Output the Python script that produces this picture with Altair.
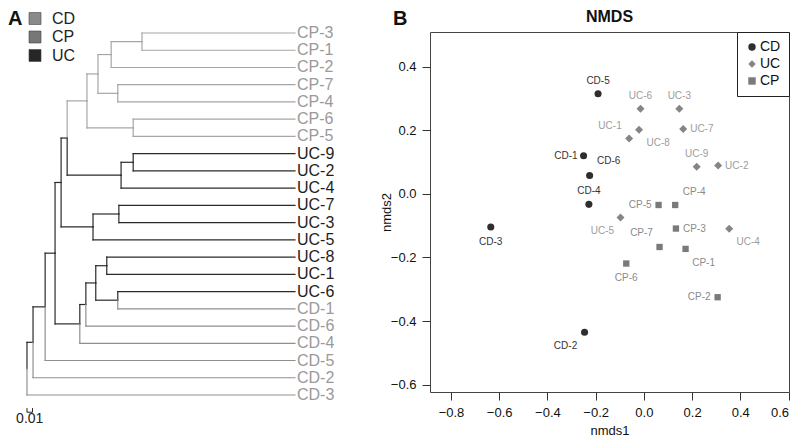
import altair as alt
import pandas as pd

# ---------------- Panel A: dendrogram ----------------
LEAVES = ["CP-3", "CP-1", "CP-2", "CP-7", "CP-4", "CP-6", "CP-5",
          "UC-9", "UC-2", "UC-4", "UC-7", "UC-3", "UC-5", "UC-8", "UC-1", "UC-6",
          "CD-1", "CD-6", "CD-4", "CD-5", "CD-2", "CD-3"]
NODE_NAMES = ["n1", "n2", "n3", "n4", "n5", "n6", "n7", "n8", "n9", "n10", "n11",
              "n12", "n13", "n14", "n15", "n16", "n17", "n18", "n19", "n20", "root"]
NODE_LEFT = ["CP-3", "n1", "CP-7", "n2", "CP-6", "n4", "UC-9", "n7", "n6", "UC-7", "n10",
             "n9", "UC-8", "UC-6", "n13", "n15", "n16", "n12", "n18", "n19", "n20"]
NODE_RIGHT = ["CP-1", "CP-2", "CP-4", "n3", "CP-5", "n5", "UC-2", "UC-4", "n8", "UC-3", "UC-5",
              "n11", "UC-1", "CD-1", "n14", "CD-6", "CD-4", "n17", "CD-5", "CD-2", "CD-3"]
NODE_DEPTH = [0.209, 0.153, 0.165, 0.129, 0.193, 0.109, 0.193, 0.171, 0.073, 0.167, 0.120,
              0.062, 0.145, 0.165, 0.125, 0.107, 0.096, 0.051, 0.033, 0.011, 0.000]
TIP_DEPTH = 0.487
SCALE_BAR = 0.01

GROUPS_A = ["CD", "CP", "UC"]
LEGEND_A_COLORS = ["#8a8a8a", "#777777", "#262626"]
BRANCH_COLORS = {"CD": "#8f8f8f", "CP": "#a6a6a6", "UC": "#2a2a2a"}
MIXED_COLOR = "#2a2a2a"
LABEL_COLORS = {"CD": "#9a9a9a", "CP": "#9a9a9a", "UC": "#1e1e1e"}

# ---------------- Panel B: NMDS ----------------
PT_NAMES = ["CD-1", "CD-2", "CD-3", "CD-4", "CD-5", "CD-6",
            "UC-1", "UC-2", "UC-3", "UC-4", "UC-5", "UC-6", "UC-7", "UC-8", "UC-9",
            "CP-1", "CP-2", "CP-3", "CP-4", "CP-5", "CP-6", "CP-7"]
PT_X = [-0.250, -0.246, -0.635, -0.228, -0.190, -0.225,
        -0.020, 0.308, 0.147, 0.354, -0.097, -0.014, 0.163, -0.061, 0.219,
        0.173, 0.306, 0.133, 0.130, 0.061, -0.073, 0.065]
PT_Y = [0.120, -0.435, -0.104, -0.033, 0.315, 0.058,
        0.202, 0.089, 0.268, -0.110, -0.074, 0.268, 0.204, 0.174, 0.085,
        -0.173, -0.325, -0.109, -0.035, -0.035, -0.219, -0.167]
# label placement (pixel offsets from the point, text alignment)
LBL_DX = [-6, -19, 0, 0, 0, 19,
          -29, 7, 0, 19, -18, 0, 7, 29, 0,
          18, -7, 7, 19, -7, 0, -18]
LBL_DY = [0, 14, 15, -13, -13, -14,
          -4, 0, -13, 13, 14, -13, 0, 4, -13,
          14, 0, 0, -13, 0, 14, -14]
LBL_ALIGN = ["right", "center", "center", "center", "center", "center",
             "center", "left", "center", "center", "center", "center", "left", "center", "center",
             "center", "right", "left", "center", "right", "center", "center"]

GROUPS_B = ["CD", "UC", "CP"]
POINT_COLORS = ["#2e2e2e", "#858585", "#7a7a7a"]
POINT_SHAPES = ["circle", "diamond", "square"]
POINT_SIZES = {"CD": 50, "UC": 64, "CP": 40}
TEXT_COLORS_B = {"CD": "#333333", "UC": "#9c9c9c", "CP": "#8a8a8a"}

FONT = "Liberation Sans"

# ---------------- layout constants ----------------
W_A, H = 330, 360
W_B = 359
X_DOM_A = [-0.0345, 0.5652]
Y_DOM_A = [-0.058, 20.826]
X_DOM_B = [-0.887, 0.602]
Y_DOM_B = [-0.623, 0.509]

# ---------------- build dendrogram segments ----------------
ypos = {name: float(i) for i, name in enumerate(LEAVES)}
depth = {name: TIP_DEPTH for name in LEAVES}
members = {name: [name] for name in LEAVES}
for n, l, r, d in zip(NODE_NAMES, NODE_LEFT, NODE_RIGHT, NODE_DEPTH):
    ypos[n] = (ypos[l] + ypos[r]) / 2
    depth[n] = d
    members[n] = members[l] + members[r]


def clade_color(name):
    gs = set(m[:2] for m in members[name])
    if len(gs) == 1:
        return BRANCH_COLORS[gs.pop()]
    return MIXED_COLOR


hseg, vseg = [], []
for n, l, r in zip(NODE_NAMES, NODE_LEFT, NODE_RIGHT):
    for c in (l, r):
        col = clade_color(c)
        hseg.append({"x": depth[n], "x2": depth[c], "y": ypos[c], "c": col})
        vseg.append({"x": depth[n], "y": ypos[n], "y2": ypos[c], "c": col})
hseg = pd.DataFrame(hseg)
vseg = pd.DataFrame(vseg)
leaf_df = pd.DataFrame({"name": LEAVES, "x": [TIP_DEPTH] * len(LEAVES),
                        "y": [ypos[n] for n in LEAVES],
                        "c": [LABEL_COLORS[n[:2]] for n in LEAVES]})

xa = alt.Scale(domain=X_DOM_A, nice=False, zero=False)
ya = alt.Scale(domain=Y_DOM_A, nice=False, zero=False, reverse=True)

h_rules = alt.Chart(hseg).mark_rule(strokeWidth=1.2, strokeCap="square").encode(
    x=alt.X("x:Q", scale=xa, axis=None), x2="x2:Q",
    y=alt.Y("y:Q", scale=ya, axis=None),
    color=alt.Color("c:N", scale=None))
v_rules = alt.Chart(vseg).mark_rule(strokeWidth=1.2, strokeCap="square").encode(
    x=alt.X("x:Q", scale=xa, axis=None),
    y=alt.Y("y:Q", scale=ya, axis=None), y2="y2:Q",
    color=alt.Color("c:N", scale=None))
leaf_text = alt.Chart(leaf_df).mark_text(align="left", baseline="middle", dx=2,
                                         fontSize=16, font=FONT).encode(
    x=alt.X("x:Q", scale=xa, axis=None),
    y=alt.Y("y:Q", scale=ya, axis=None),
    text="name:N", color=alt.Color("c:N", scale=None))

nl = len(LEAVES)
bar_df = pd.DataFrame({"x": [0.0], "x2": [SCALE_BAR], "y": [float(nl)]})
bar_ticks = pd.DataFrame({"x": [0.0, SCALE_BAR], "y": [nl - 0.24] * 2, "y2": [float(nl)] * 2})
bar_h = alt.Chart(bar_df).mark_rule(strokeWidth=1, color="#222").encode(
    x=alt.X("x:Q", scale=xa, axis=None), x2="x2:Q", y=alt.Y("y:Q", scale=ya, axis=None))
bar_v = alt.Chart(bar_ticks).mark_rule(strokeWidth=1, color="#222").encode(
    x=alt.X("x:Q", scale=xa, axis=None), y=alt.Y("y:Q", scale=ya, axis=None), y2="y2:Q")
bar_txt = alt.Chart(pd.DataFrame({"x": [SCALE_BAR / 2], "y": [nl + 0.42], "t": [str(SCALE_BAR)]})).mark_text(
    fontSize=14, font=FONT, color="#222", baseline="middle").encode(
    x=alt.X("x:Q", scale=xa, axis=None), y=alt.Y("y:Q", scale=ya, axis=None), text="t:N")

legend_a = alt.Chart(pd.DataFrame({"group": GROUPS_A, "x": [0.0] * 3, "y": [0.0] * 3})).mark_square(
    opacity=0).encode(
    x=alt.X("x:Q", scale=xa, axis=None), y=alt.Y("y:Q", scale=ya, axis=None),
    fill=alt.Fill("group:N", scale=alt.Scale(domain=GROUPS_A, range=LEGEND_A_COLORS),
                  legend=alt.Legend(title=None, orient="none", legendX=19, legendY=-21.5,
                                    symbolType="square", symbolSize=144, symbolOpacity=1,
                                    symbolStrokeColor="#444", symbolStrokeWidth=0.6,
                                    labelFontSize=16, labelFont=FONT, labelColor="#222",
                                    rowPadding=2.5, labelOffset=9, padding=0)))

letter_a = alt.Chart(pd.DataFrame({"t": ["A"]})).mark_text(
    align="left", baseline="top", fontSize=20, fontWeight="bold", font=FONT, color="#111").encode(
    text="t:N", x=alt.value(0), y=alt.value(-23))

panel_a = alt.layer(h_rules, v_rules, leaf_text, bar_h, bar_v, bar_txt, legend_a, letter_a).properties(
    width=W_A, height=H, view=alt.ViewBackground(stroke=None))

# ---------------- build NMDS data ----------------
ux = (X_DOM_B[1] - X_DOM_B[0]) / W_B
uy = (Y_DOM_B[1] - Y_DOM_B[0]) / H
groups = [n[:2] for n in PT_NAMES]
pts = pd.DataFrame({
    "name": PT_NAMES, "x": PT_X, "y": PT_Y, "group": groups,
    "size": [POINT_SIZES[g] for g in groups],
    "lx": [x + dx * ux for x, dx in zip(PT_X, LBL_DX)],
    "ly": [y - dy * uy for y, dy in zip(PT_Y, LBL_DY)],
    "align": LBL_ALIGN,
    "tc": [TEXT_COLORS_B[g] for g in groups],
})

xb = alt.Scale(domain=X_DOM_B, nice=False, zero=False)
yb = alt.Scale(domain=Y_DOM_B, nice=False, zero=False)
x_axis = alt.Axis(title="nmds1", values=[-0.8, -0.6, -0.4, -0.2, 0.0, 0.2, 0.4, 0.6], format=".1f",
                  grid=False, domain=False, tickSize=8, tickColor="#333", labelFontSize=13,
                  labelColor="#111", labelFont=FONT, labelPadding=6, labelFlush=True,
                  titleFontSize=13, titleFontWeight="normal", titleFont=FONT, titleColor="#111",
                  titlePadding=5)
y_axis = alt.Axis(title="nmds2", values=[-0.6, -0.4, -0.2, 0.0, 0.2, 0.4], format=".1f",
                  grid=False, domain=False, tickSize=8, tickColor="#333", labelFontSize=13,
                  labelColor="#111", labelFont=FONT, labelPadding=6,
                  titleFontSize=13, titleFontWeight="normal", titleFont=FONT, titleColor="#111",
                  titlePadding=-3)

leg_b = alt.Legend(title=None, orient="top-right", offset=0, strokeColor="#222",
                   fillColor="white", padding=8, labelFontSize=14, labelFont=FONT,
                   labelColor="#111", symbolSize=55, rowPadding=3, labelOffset=1, cornerRadius=0)

points = alt.Chart(pts).mark_point(filled=True, opacity=1).encode(
    x=alt.X("x:Q", scale=xb, axis=x_axis),
    y=alt.Y("y:Q", scale=yb, axis=y_axis),
    color=alt.Color("group:N", scale=alt.Scale(domain=GROUPS_B, range=POINT_COLORS), legend=leg_b),
    shape=alt.Shape("group:N", scale=alt.Scale(domain=GROUPS_B, range=POINT_SHAPES), legend=leg_b),
    size=alt.Size("size:Q", scale=None))

label_layers = []
for al in ["center", "left", "right"]:
    label_layers.append(
        alt.Chart(pts).transform_filter(alt.datum.align == al).mark_text(
            align=al, baseline="middle", fontSize=10, font=FONT).encode(
            x=alt.X("lx:Q", scale=xb), y=alt.Y("ly:Q", scale=yb), text="name:N",
            fill=alt.Fill("tc:N", scale=None)))

letter_b = alt.Chart(pd.DataFrame({"t": ["B"]})).mark_text(
    align="left", baseline="top", fontSize=20, fontWeight="bold", font=FONT, color="#111").encode(
    text="t:N", x=alt.value(-37), y=alt.value(-23))

title_b = alt.Chart(pd.DataFrame({"t": ["NMDS"]})).mark_text(
    align="center", baseline="alphabetic", fontSize=16, fontWeight="bold", font=FONT,
    color="#111").encode(text="t:N", x=alt.value(W_B / 2), y=alt.value(-10))

panel_b = alt.layer(points, *label_layers, letter_b, title_b).properties(
    width=W_B, height=H,
    view=alt.ViewBackground(stroke="#444", strokeWidth=1))

chart = alt.hconcat(panel_a, panel_b, spacing=92, bounds="flush").resolve_scale(
    x="independent", y="independent", color="independent", fill="independent", shape="independent"
).resolve_legend(color="independent", fill="independent", shape="independent").properties(
    padding=0
).configure(font=FONT)

chart.save("out.html", embed_options={"renderer": "svg", "actions": False})
